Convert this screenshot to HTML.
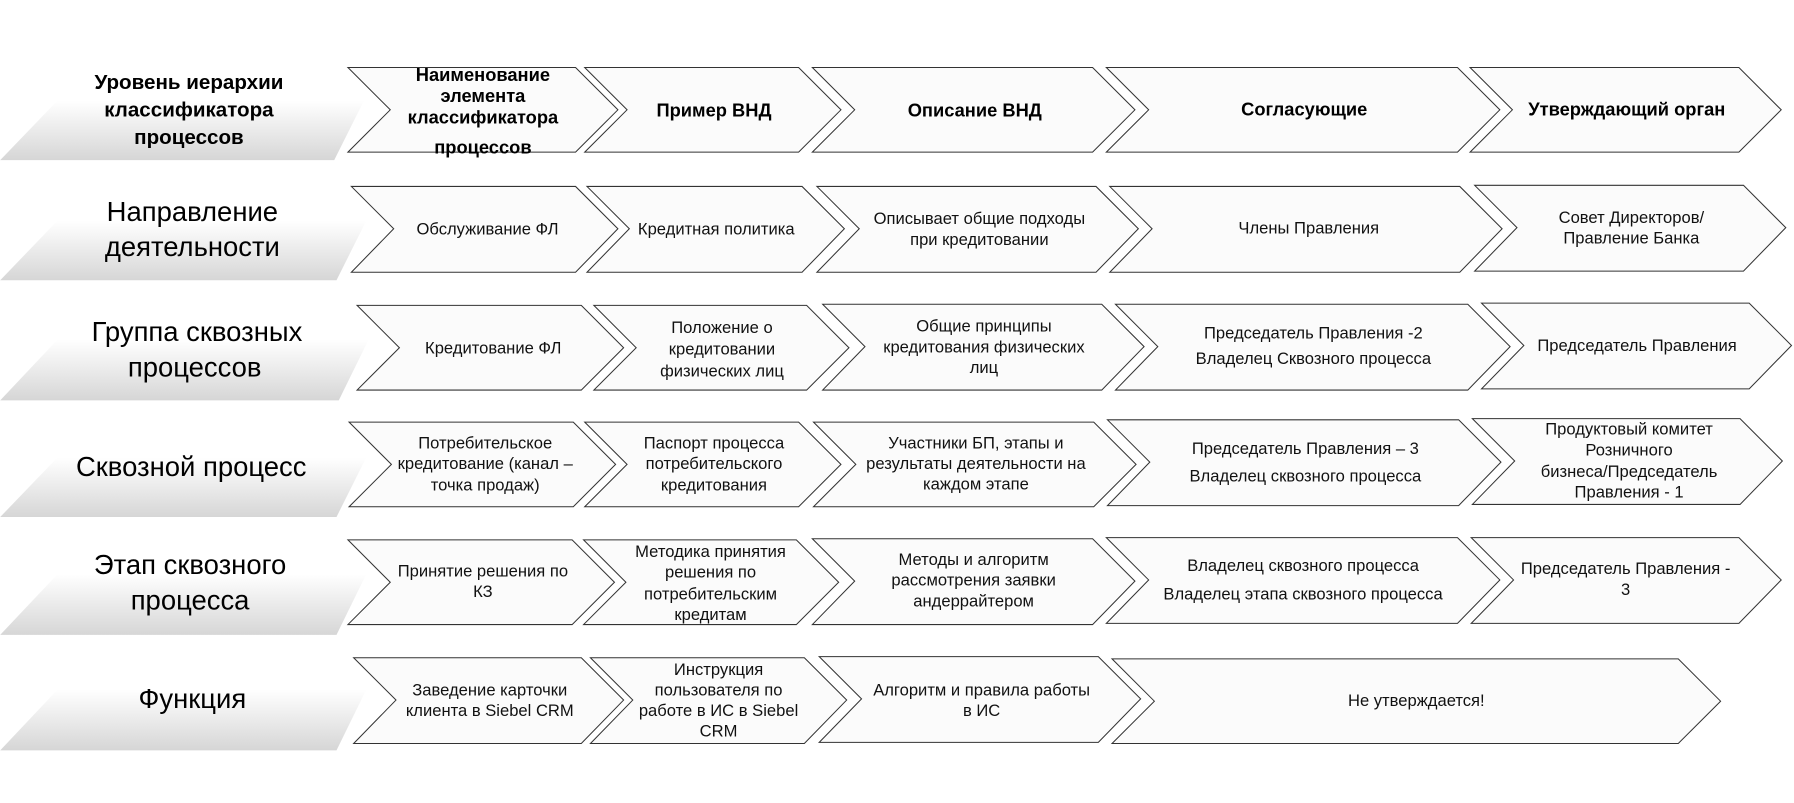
<!DOCTYPE html>
<html><head><meta charset="utf-8"><style>
html,body{margin:0;padding:0;background:#fff;}
svg{display:block}
.l{font-family:"Liberation Sans Narrow","Liberation Sans",sans-serif;fill:#000;text-anchor:middle}
.c{font-family:"Liberation Sans Narrow","Liberation Sans",sans-serif;font-size:14.5px;fill:#111;text-anchor:middle}
.h{font-family:"Liberation Sans Narrow","Liberation Sans",sans-serif;font-size:16px;font-weight:bold;fill:#000;text-anchor:middle}
polygon.ch{fill:#fbfbfb;stroke:#333;stroke-width:0.9}
</style></head><body>
<svg width="1794" height="803" viewBox="0 0 1568 702" xmlns="http://www.w3.org/2000/svg">
<defs><linearGradient id="g" x1="0" y1="0" x2="0" y2="1"><stop offset="0" stop-color="#fff"/><stop offset="1" stop-color="#d6d6d6"/></linearGradient></defs>
<!-- left gradient shapes -->
<polygon points="50,88 318,88 292,140 0,140" fill="url(#g)"/>
<polygon points="50,193 320,193 294,245 0,245" fill="url(#g)"/>
<polygon points="50,297 322,297 296,350 0,350" fill="url(#g)"/>
<polygon points="50,400 320,400 294,452 0,452" fill="url(#g)"/>
<polygon points="50,502 320,502 294,555 0,555" fill="url(#g)"/>
<polygon points="50,603 320,603 294,656 0,656" fill="url(#g)"/>

<g id="chev">
<!-- row1 -->
<polygon class="ch" points="304,59 503,59 540,96 503,133 304,133 341,96"/>
<polygon class="ch" points="511,59 698,59 735,96 698,133 511,133 548,96"/>
<polygon class="ch" points="710,59 955,59 992,96 955,133 710,133 747,96"/>
<polygon class="ch" points="967,59 1274,59 1311,96 1274,133 967,133 1004,96"/>
<polygon class="ch" points="1285,59 1520,59 1557,96 1520,133 1285,133 1322,96"/>
<!-- row2 -->
<polygon class="ch" points="307,163 503,163 540,200 503,238 307,238 344,200"/>
<polygon class="ch" points="513,163 701,163 738,200 701,238 513,238 550,200"/>
<polygon class="ch" points="714,163 958,163 995,200 958,238 714,238 751,200"/>
<polygon class="ch" points="970,163 1276,163 1313,200 1276,238 970,238 1007,200"/>
<polygon class="ch" points="1289,162 1524,162 1561,199 1524,237 1289,237 1326,199"/>
<!-- row3 -->
<polygon class="ch" points="312,267 508,267 545,304 508,341 312,341 349,304"/>
<polygon class="ch" points="519,267 705,267 742,304 705,341 519,341 556,304"/>
<polygon class="ch" points="719,266 963,266 1000,303 963,341 719,341 756,303"/>
<polygon class="ch" points="975,266 1283,266 1320,303 1283,341 975,341 1012,303"/>
<polygon class="ch" points="1295,265 1529,265 1566,302 1529,340 1295,340 1332,302"/>
<!-- row4 -->
<polygon class="ch" points="305,369 501,369 538,406 501,443 305,443 342,406"/>
<polygon class="ch" points="511,369 698,369 735,406 698,443 511,443 548,406"/>
<polygon class="ch" points="711,369 956,369 993,406 956,443 711,443 748,406"/>
<polygon class="ch" points="968,367 1275,367 1312,404 1275,442 968,442 1005,404"/>
<polygon class="ch" points="1287,366 1521,366 1558,403 1521,441 1287,441 1324,403"/>
<!-- row5 -->
<polygon class="ch" points="304,472 500,472 537,509 500,546 304,546 341,509"/>
<polygon class="ch" points="510,472 696,472 733,509 696,546 510,546 547,509"/>
<polygon class="ch" points="710,471 955,471 992,508 955,546 710,546 747,508"/>
<polygon class="ch" points="967,470 1274,470 1311,507 1274,545 967,545 1004,507"/>
<polygon class="ch" points="1286,470 1520,470 1557,507 1520,545 1286,545 1323,507"/>
<!-- row6 -->
<polygon class="ch" points="309,575 508,575 545,612 508,650 309,650 346,612"/>
<polygon class="ch" points="516,575 703,575 740,612 703,650 516,650 553,612"/>
<polygon class="ch" points="716,574 960,574 997,611 960,649 716,649 753,611"/>
<polygon class="ch" points="972,576 1467,576 1504,613 1467,650 972,650 1009,613"/>
</g>

<!-- left labels -->
<text class="l" font-size="18" font-weight="bold" x="165" y="78">Уровень иерархии</text>
<text class="l" font-size="18" font-weight="bold" x="165" y="102">классификатора</text>
<text class="l" font-size="18" font-weight="bold" x="165" y="126">процессов</text>
<text class="l" font-size="24" x="168" y="193">Направление</text>
<text class="l" font-size="24" x="168" y="224">деятельности</text>
<text class="l" font-size="24" x="172" y="298">Группа сквозных</text>
<text class="l" font-size="24" x="170" y="329">процессов</text>
<text class="l" font-size="24" x="167" y="416">Сквозной процесс</text>
<text class="l" font-size="24" x="166" y="502">Этап сквозного</text>
<text class="l" font-size="24" x="166" y="533">процесса</text>
<text class="l" font-size="24" x="168" y="619">Функция</text>

<!-- headers -->
<text class="h" x="422" y="71">Наименование</text>
<text class="h" x="422" y="89">элемента</text>
<text class="h" x="422" y="108">классификатора</text>
<text class="h" x="422" y="134">процессов</text>
<text class="h" x="624" y="102">Пример ВНД</text>
<text class="h" x="852" y="102">Описание ВНД</text>
<text class="h" x="1140" y="101">Согласующие</text>
<text class="h" x="1422" y="101">Утверждающий орган</text>

<!-- row2 -->
<text class="c" x="426" y="205">Обслуживание ФЛ</text>
<text class="c" x="626" y="205">Кредитная политика</text>
<text class="c" x="856" y="196">Описывает общие подходы</text>
<text class="c" x="856" y="214">при кредитовании</text>
<text class="c" x="1144" y="204">Члены Правления</text>
<text class="c" x="1426" y="195">Совет Директоров/</text>
<text class="c" x="1426" y="213">Правление Банка</text>
<!-- row3 -->
<text class="c" x="431" y="309">Кредитование ФЛ</text>
<text class="c" x="631" y="291">Положение о</text>
<text class="c" x="631" y="310">кредитовании</text>
<text class="c" x="631" y="329">физических лиц</text>
<text class="c" x="860" y="290">Общие принципы</text>
<text class="c" x="860" y="308">кредитования физических</text>
<text class="c" x="860" y="326">лиц</text>
<text class="c" x="1148" y="296">Председатель Правления -2</text>
<text class="c" x="1148" y="318">Владелец Сквозного процесса</text>
<text class="c" x="1431" y="307">Председатель Правления</text>
<!-- row4 -->
<text class="c" x="424" y="392">Потребительское</text>
<text class="c" x="424" y="410">кредитование (канал –</text>
<text class="c" x="424" y="429">точка продаж)</text>
<text class="c" x="624" y="392">Паспорт процесса</text>
<text class="c" x="624" y="410">потребительского</text>
<text class="c" x="624" y="429">кредитования</text>
<text class="c" x="853" y="392">Участники БП, этапы и</text>
<text class="c" x="853" y="410">результаты деятельности на</text>
<text class="c" x="853" y="428">каждом этапе</text>
<text class="c" x="1141" y="397">Председатель Правления – 3</text>
<text class="c" x="1141" y="421">Владелец сквозного процесса</text>
<text class="c" x="1424" y="380">Продуктовый комитет</text>
<text class="c" x="1424" y="398">Розничного</text>
<text class="c" x="1424" y="417">бизнеса/Председатель</text>
<text class="c" x="1424" y="435">Правления - 1</text>
<!-- row5 -->
<text class="c" x="422" y="504">Принятие решения по</text>
<text class="c" x="422" y="522">КЗ</text>
<text class="c" x="621" y="487">Методика принятия</text>
<text class="c" x="621" y="505">решения по</text>
<text class="c" x="621" y="524">потребительским</text>
<text class="c" x="621" y="542">кредитам</text>
<text class="c" x="851" y="494">Методы и алгоритм</text>
<text class="c" x="851" y="512">рассмотрения заявки</text>
<text class="c" x="851" y="530">андеррайтером</text>
<text class="c" x="1139" y="499">Владелец сквозного процесса</text>
<text class="c" x="1139" y="524">Владелец этапа сквозного процесса</text>
<text class="c" x="1421" y="502">Председатель Правления -</text>
<text class="c" x="1421" y="520">3</text>
<!-- row6 -->
<text class="c" x="428" y="608">Заведение карточки</text>
<text class="c" x="428" y="626">клиента в Siebel CRM</text>
<text class="c" x="628" y="590">Инструкция</text>
<text class="c" x="628" y="608">пользователя по</text>
<text class="c" x="628" y="626">работе в ИС в Siebel</text>
<text class="c" x="628" y="644">CRM</text>
<text class="c" x="858" y="608">Алгоритм и правила работы</text>
<text class="c" x="858" y="626">в ИС</text>
<text class="c" x="1238" y="617">Не утверждается!</text>
</svg>
</body></html>
